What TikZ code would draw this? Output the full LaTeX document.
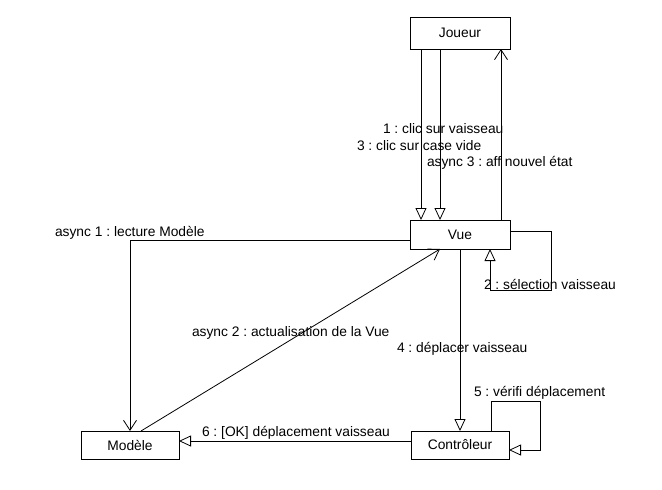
\documentclass[tikz,border=0pt]{standalone}
\usepackage{fontspec}
\setmainfont{Liberation Sans}
\frenchspacing
\usetikzlibrary{arrows.meta}
\begin{document}
\begin{tikzpicture}[x=1pt,y=-1pt,
  objbox/.style={draw=drawColor,line width=0.8pt,fill=white,inner sep=0pt,outer sep=0pt,
    font=\fontsize{13.8}{16}\selectfont},
  msg/.style={draw=drawColor,line width=0.8pt,-{Triangle[open,length=12pt,width=11pt]}},
  ret/.style={draw=drawColor,line width=0.8pt,-{Straight Barb[length=10pt,width=13pt]}},
  lbl/.style={text=drawColor,anchor=west,inner sep=0pt,outer sep=0pt,font=\fontsize{13.8}{16}\selectfont}]
\definecolor{fillColor}{RGB}{255,255,255}
\definecolor{drawColor}{RGB}{0,0,0}
\path[use as bounding box,fill=fillColor] (0,0) rectangle (662,490);

\node[objbox,minimum width=100pt,minimum height=32pt] (joueur) at (460,33) {Joueur};
\node[objbox,minimum width=100pt,minimum height=29pt] (vue) at (460,234.5) {Vue};
\node[objbox,minimum width=98pt,minimum height=28pt] (modele) at (130,445) {Modèle};
\node[objbox,minimum width=98pt,minimum height=28pt] (controleur) at (460,445) {Contrôleur};

\path[msg] ([xshift=11pt]joueur.south west) -- ([xshift=11pt]vue.north west);
\path[msg] ([xshift=30pt]joueur.south west) -- ([xshift=30pt]vue.north west);
\path[ret] ([xshift=-9pt]vue.north east) -- ([xshift=-9pt]joueur.south east);
\path[msg] ([yshift=3.5pt]vue.east) -| (551,290) -| ([xshift=30pt]vue.south);
\path[ret] ([yshift=-5.5pt]vue.west) -| ([xshift=49pt]modele.north west);
\path[ret] ([xshift=60pt]modele.north west) -- ([xshift=-20pt]vue.south);
\path[msg] (vue.south) -- (controleur.north);
\path[msg] ([xshift=-18pt]controleur.north east) |- (540,401) |- ([yshift=-5pt]controleur.east);
\path[msg] ([yshift=4pt]controleur.west) -- ([yshift=4pt]modele.east);

\node[lbl] (l1) at (383,129) {1 : clic sur vaisseau};
\node[lbl] (l3) at (357,146) {3 : clic sur case vide};
\node[lbl] (la3) at (427,163) {async 3 : aff nouvel état};
\node[lbl] (la1) at (55,233) {async 1 : lecture Modèle};
\node[lbl] (l2) at (484,284) {2 : sélection vaisseau};
\node[lbl] (la2) at (192,333) {async 2 : actualisation de la Vue};
\node[lbl] (l4) at (397,349) {4 : déplacer vaisseau};
\node[lbl] (l5) at (474,393) {5 : vérifi déplacement};
\node[lbl] (l6) at (202,433) {6 : [OK] déplacement vaisseau};
\end{tikzpicture}
\end{document}
